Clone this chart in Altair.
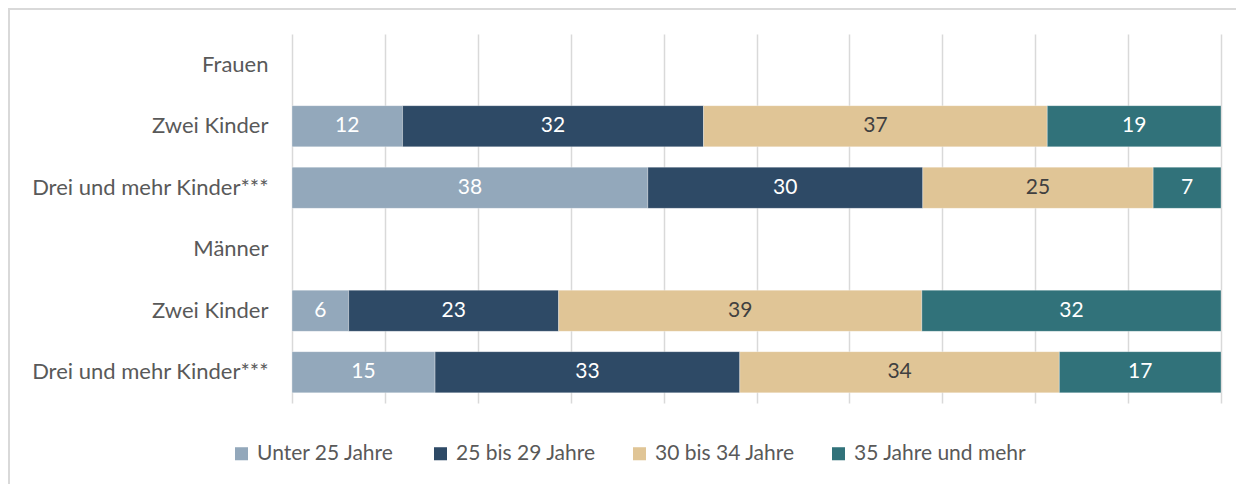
import altair as alt
import pandas as pd

row_labels = ["Frauen", "Zwei Kinder", "Drei und mehr Kinder***", "Männer", "Zwei Kinder", "Drei und mehr Kinder***"]
groups = ["Unter 25 Jahre", "25 bis 29 Jahre", "30 bis 34 Jahre", "35 Jahre und mehr"]
colors = ["#93A8BB", "#2E4A66", "#E0C596", "#31727A"]
text_colors = ["#FFFFFF", "#FFFFFF", "#404040", "#FFFFFF"]

# row index -> shares (percent) per age group
frauen_zwei = [11.9, 32.4, 37.0, 18.7]
frauen_drei = [38.3, 29.6, 24.8, 7.3]
maenner_zwei = [6.1, 22.6, 39.1, 32.2]
maenner_drei = [15.4, 32.8, 34.4, 17.4]
bar_rows = [1, 2, 4, 5]
bar_values = [frauen_zwei, frauen_drei, maenner_zwei, maenner_drei]

recs = []
for r, vals in zip(bar_rows, bar_values):
    for gi, (g, v) in enumerate(zip(groups, vals)):
        recs.append({"row": r, "group": g, "order": gi, "value": v, "tcolor": text_colors[gi]})
df = pd.DataFrame(recs)

label_expr = "[" + ",".join("'" + s + "'" for s in row_labels) + "][datum.value]"
FONT = "Lato"
FS = 21

y_scale = alt.Scale(domain=list(range(6)), paddingInner=0.33, paddingOuter=0.165)
y_axis = alt.Axis(title=None, labelExpr=label_expr, ticks=False, domain=False, labelPadding=24,
                  labelFontSize=22, labelColor="#595959", labelFont=FONT, grid=False, labelLimit=500)
x_scale = alt.Scale(domain=[0, 100], nice=False)
x_axis = alt.Axis(title=None, labels=False, ticks=False, domain=False,
                  values=list(range(0, 101, 10)), grid=True, gridColor="#D9D9D9", gridWidth=1.5)

base = alt.Chart(df).transform_stack(
    stack="value", groupby=["row"], as_=["x0", "x1"], sort=[alt.SortField("order", "ascending")]
).transform_calculate(mid="(datum.x0 + datum.x1) / 2")

bars = base.mark_bar(stroke="#FFFFFF", strokeWidth=0.5, strokeOpacity=0.6).encode(
    x=alt.X("x0:Q", scale=x_scale, axis=x_axis),
    x2="x1:Q",
    y=alt.Y("row:O", scale=y_scale, axis=y_axis),
    color=alt.Color("group:N", scale=alt.Scale(domain=groups, range=colors),
                    legend=alt.Legend(title=None, orient="none", direction="horizontal", legendX=-61, legendY=409,
                                      symbolType="square", symbolSize=170, symbolStrokeWidth=0,
                                      labelFontSize=FS, labelColor="#595959", labelFont=FONT,
                                      labelOffset=5, gridAlign="all", columnPadding=0, columns=4,
                                      labelLimit=400)),
)

texts = base.mark_text(fontSize=FS, font=FONT, baseline="middle").encode(
    x=alt.X("mid:Q", scale=x_scale, axis=x_axis),
    y=alt.Y("row:O", scale=y_scale, axis=y_axis),
    text=alt.Text("value:Q", format=".0f"),
    color=alt.Color("tcolor:N", scale=None),
)

frame_top = alt.Chart(df).mark_rule(color="#D9D9D9", strokeWidth=1.5).encode(
    x=alt.value(-284), x2=alt.value(950), y=alt.value(-25))
frame_left = alt.Chart(df).mark_rule(color="#D9D9D9", strokeWidth=1.5).encode(
    x=alt.value(-283), y=alt.value(-25), y2=alt.value(460))

chart = alt.layer(bars, texts, frame_top, frame_left).properties(
    width=929, height=369,
    padding={"left": 284, "top": 26, "right": 15, "bottom": 81},
    autosize=alt.AutoSizeParams(type="none"),
    background="#FFFFFF",
).configure_view(stroke=None)

chart.save("out.html", embed_options={"renderer": "svg", "actions": False})
